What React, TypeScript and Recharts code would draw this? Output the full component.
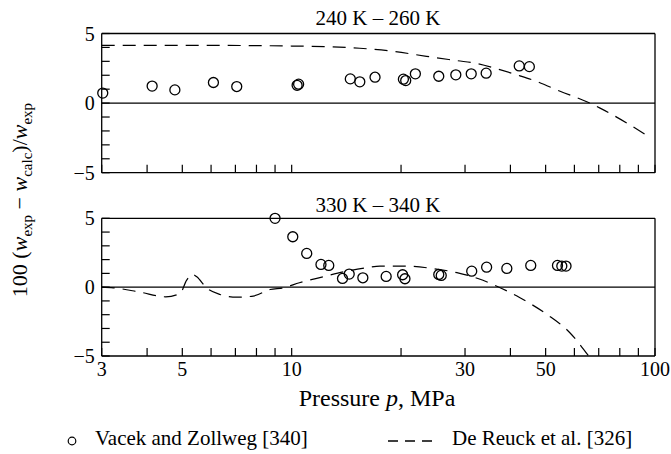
import React from 'react';
import { ComposedChart, XAxis, YAxis, Line, Scatter, ReferenceLine } from 'recharts';

const FONT = '"Liberation Serif", "Times New Roman", Times, serif';

// x ticks (log axis) and which are labeled
const xTicks = [3, 4, 5, 6, 7, 8, 9, 10, 20, 30, 40, 50, 60, 70, 80, 90, 100];
const xLabeled = [3, 5, 10, 30, 50, 100];
const yTicks = [-5, -4, -3, -2, -1, 0, 1, 2, 3, 4, 5];
const yLabeled = [-5, 0, 5];

// 240 K – 260 K : Vacek and Zollweg [340]
const topPoints = [
  { p: 3.02, d: 0.72 }, { p: 4.13, d: 1.22 }, { p: 4.77, d: 0.95 }, { p: 6.09, d: 1.48 },
  { p: 7.06, d: 1.19 }, { p: 10.35, d: 1.28 }, { p: 10.45, d: 1.36 }, { p: 14.5, d: 1.74 },
  { p: 15.4, d: 1.53 }, { p: 16.96, d: 1.86 }, { p: 20.3, d: 1.72 }, { p: 20.6, d: 1.62 },
  { p: 21.9, d: 2.1 }, { p: 25.4, d: 1.93 }, { p: 28.3, d: 2.03 }, { p: 31.2, d: 2.1 },
  { p: 34.3, d: 2.15 }, { p: 42.3, d: 2.67 }, { p: 45.1, d: 2.62 },
];

// 240 K – 260 K : De Reuck et al. [326]
const topCurve = [
  { p: 3, d: 4.15 }, { p: 5, d: 4.15 }, { p: 8, d: 4.13 }, { p: 10, d: 4.1 },
  { p: 12.5, d: 4.05 }, { p: 15.4, d: 3.94 }, { p: 19, d: 3.72 }, { p: 23.5, d: 3.36 },
  { p: 28.5, d: 3.05 }, { p: 32.3, d: 2.85 }, { p: 37.4, d: 2.4 }, { p: 42.5, d: 1.96 },
  { p: 47.3, d: 1.55 }, { p: 54.8, d: 0.85 }, { p: 64.9, d: 0.1 }, { p: 70.6, d: -0.36 },
  { p: 83.6, d: -1.43 }, { p: 96, d: -2.4 },
];

// 330 K – 340 K : Vacek and Zollweg [340]
const bottomPoints = [
  { p: 9.0, d: 5.0 }, { p: 10.07, d: 3.66 }, { p: 11.0, d: 2.45 }, { p: 12.04, d: 1.65 },
  { p: 12.65, d: 1.58 }, { p: 13.8, d: 0.63 }, { p: 14.4, d: 0.95 }, { p: 15.7, d: 0.68 },
  { p: 18.2, d: 0.78 }, { p: 20.2, d: 0.9 }, { p: 20.5, d: 0.61 }, { p: 25.4, d: 0.92 },
  { p: 25.8, d: 0.85 }, { p: 31.3, d: 1.16 }, { p: 34.4, d: 1.45 }, { p: 39.1, d: 1.36 },
  { p: 45.5, d: 1.58 }, { p: 53.9, d: 1.58 }, { p: 55.4, d: 1.53 }, { p: 56.9, d: 1.53 },
];

// 330 K – 340 K : De Reuck et al. [326]
const bottomCurve = [
  { p: 3, d: 0 }, { p: 3.23, d: -0.05 }, { p: 3.82, d: -0.36 }, { p: 4.5, d: -0.7 },
  { p: 4.93, d: -0.46 }, { p: 5.14, d: 0.51 }, { p: 5.33, d: 0.93 }, { p: 5.48, d: 0.75 },
  { p: 5.83, d: -0.05 }, { p: 6.35, d: -0.53 }, { p: 7.06, d: -0.73 }, { p: 7.84, d: -0.65 },
  { p: 8.72, d: -0.17 }, { p: 9.49, d: -0.05 }, { p: 10.5, d: 0.32 }, { p: 12.2, d: 0.75 },
  { p: 14.2, d: 1.16 }, { p: 16.1, d: 1.41 }, { p: 17.5, d: 1.53 }, { p: 20.7, d: 1.53 },
  { p: 24.3, d: 1.36 }, { p: 28.5, d: 1.05 }, { p: 32.7, d: 0.61 }, { p: 36.7, d: 0.07 },
  { p: 42.5, d: -0.77 }, { p: 50.4, d: -1.98 }, { p: 58.3, d: -3.31 }, { p: 65.5, d: -4.96 },
];

const titles = ['240 K – 260 K', '330 K – 340 K'];

const fmt = (v: number) => (v < 0 ? '\u2212' + Math.abs(v) : String(v));

const makeXTick = (showLabel: boolean) => (props: any) => {
  const { x, y, payload } = props;
  return (
    <g>
      <line x1={x} y1={y} x2={x} y2={y - 8} stroke="#000" strokeWidth={1.2} />
      {showLabel && xLabeled.includes(payload.value) && (
        <text x={x} y={y + 20} textAnchor="middle" fontSize={20} fontFamily={FONT} fill="#000">
          {payload.value}
        </text>
      )}
    </g>
  );
};

const YTick = (props: any) => {
  const { x, y, payload } = props;
  return (
    <g>
      <line x1={x} y1={y} x2={x + 8} y2={y} stroke="#000" strokeWidth={1.2} />
      {yLabeled.includes(payload.value) && (
        <text x={x - 7} y={y} dy="0.35em" textAnchor="end" fontSize={20} fontFamily={FONT} fill="#000">
          {fmt(payload.value)}
        </text>
      )}
    </g>
  );
};

const Circle = (props: any) => (
  <circle cx={props.cx} cy={props.cy} r={5} fill="none" stroke="#000" strokeWidth={1.3} />
);

const Panel = ({ points, curve, showLabels, height, margin, xHeight }: any) => (
  <ComposedChart width={671} height={height} margin={margin}>
    <XAxis
      dataKey="p"
      type="number"
      scale="log"
      domain={[3, 100]}
      ticks={xTicks}
      interval={0}
      height={xHeight}
      tickSize={0}
      tickMargin={0}
      tickLine={false}
      axisLine={{ stroke: '#000', strokeWidth: 1.3 }}
      tick={makeXTick(showLabels)}
    />
    <YAxis
      type="number"
      domain={[-5, 5]}
      ticks={yTicks}
      interval={0}
      width={30}
      tickSize={0}
      tickMargin={0}
      tickLine={false}
      axisLine={{ stroke: '#000', strokeWidth: 1.3 }}
      tick={YTick}
    />
    <ReferenceLine y={5} stroke="#000" strokeWidth={1.3} />
    <ReferenceLine x={100} stroke="#000" strokeWidth={1.3} />
    <ReferenceLine y={0} stroke="#000" strokeWidth={1.2} />
    <Line
      data={curve}
      dataKey="d"
      type="monotone"
      stroke="#000"
      strokeWidth={1.2}
      strokeDasharray="13 8"
      dot={false}
      isAnimationActive={false}
    />
    <Scatter data={points} dataKey="d" shape={Circle} isAnimationActive={false} />
  </ComposedChart>
);

export default function App() {
  return (
    <div style={{ position: 'absolute', left: 0, top: 0, width: 671, height: 454, background: '#fff' }}>
      <div style={{ position: 'absolute', left: 0, top: 0 }}>
        <Panel
          points={topPoints}
          curve={topCurve}
          showLabels={false}
          height={190}
          xHeight={15}
          margin={{ top: 33.5, right: 16, bottom: 2.3, left: 71.7 }}
        />
      </div>
      <div style={{ position: 'absolute', left: 0, top: 190 }}>
        <Panel
          points={bottomPoints}
          curve={bottomCurve}
          showLabels={true}
          height={264}
          xHeight={30}
          margin={{ top: 28.3, right: 16, bottom: 68, left: 71.7 }}
        />
      </div>
      <svg
        width={671}
        height={454}
        style={{ position: 'absolute', left: 0, top: 0, pointerEvents: 'none' }}
        fontFamily={FONT}
      >
        <text x={378} y={25} textAnchor="middle" fontSize={21} fill="#000">{titles[0]}</text>
        <text x={378} y={211.5} textAnchor="middle" fontSize={21} fill="#000">{titles[1]}</text>
        <text x={377} y={406} textAnchor="middle" fontSize={24} fill="#000">
          Pressure <tspan fontStyle="italic">p</tspan>, MPa
        </text>
        <text x={27} y={200} textAnchor="middle" fontSize={22} fill="#000" transform="rotate(-90, 27, 200)">
          100 (<tspan fontStyle="italic">w</tspan>
          <tspan fontSize={15} dy={5}>exp</tspan>
          <tspan dy={-5}> {'\u2212'} </tspan>
          <tspan fontStyle="italic">w</tspan>
          <tspan fontSize={15} dy={5}>calc</tspan>
          <tspan dy={-5}>)/</tspan>
          <tspan fontStyle="italic">w</tspan>
          <tspan fontSize={15} dy={5}>exp</tspan>
        </text>
        <circle cx={72} cy={441} r={3.8} fill="none" stroke="#000" strokeWidth={1.2} />
        <text x={95} y={445} fontSize={21} fill="#000">Vacek and Zollweg [340]</text>
        <line x1={388} y1={441} x2={432} y2={441} stroke="#000" strokeWidth={1.3} strokeDasharray="10 7" />
        <text x={452} y={445} fontSize={21} fill="#000">De Reuck et al. [326]</text>
      </svg>
    </div>
  );
}
